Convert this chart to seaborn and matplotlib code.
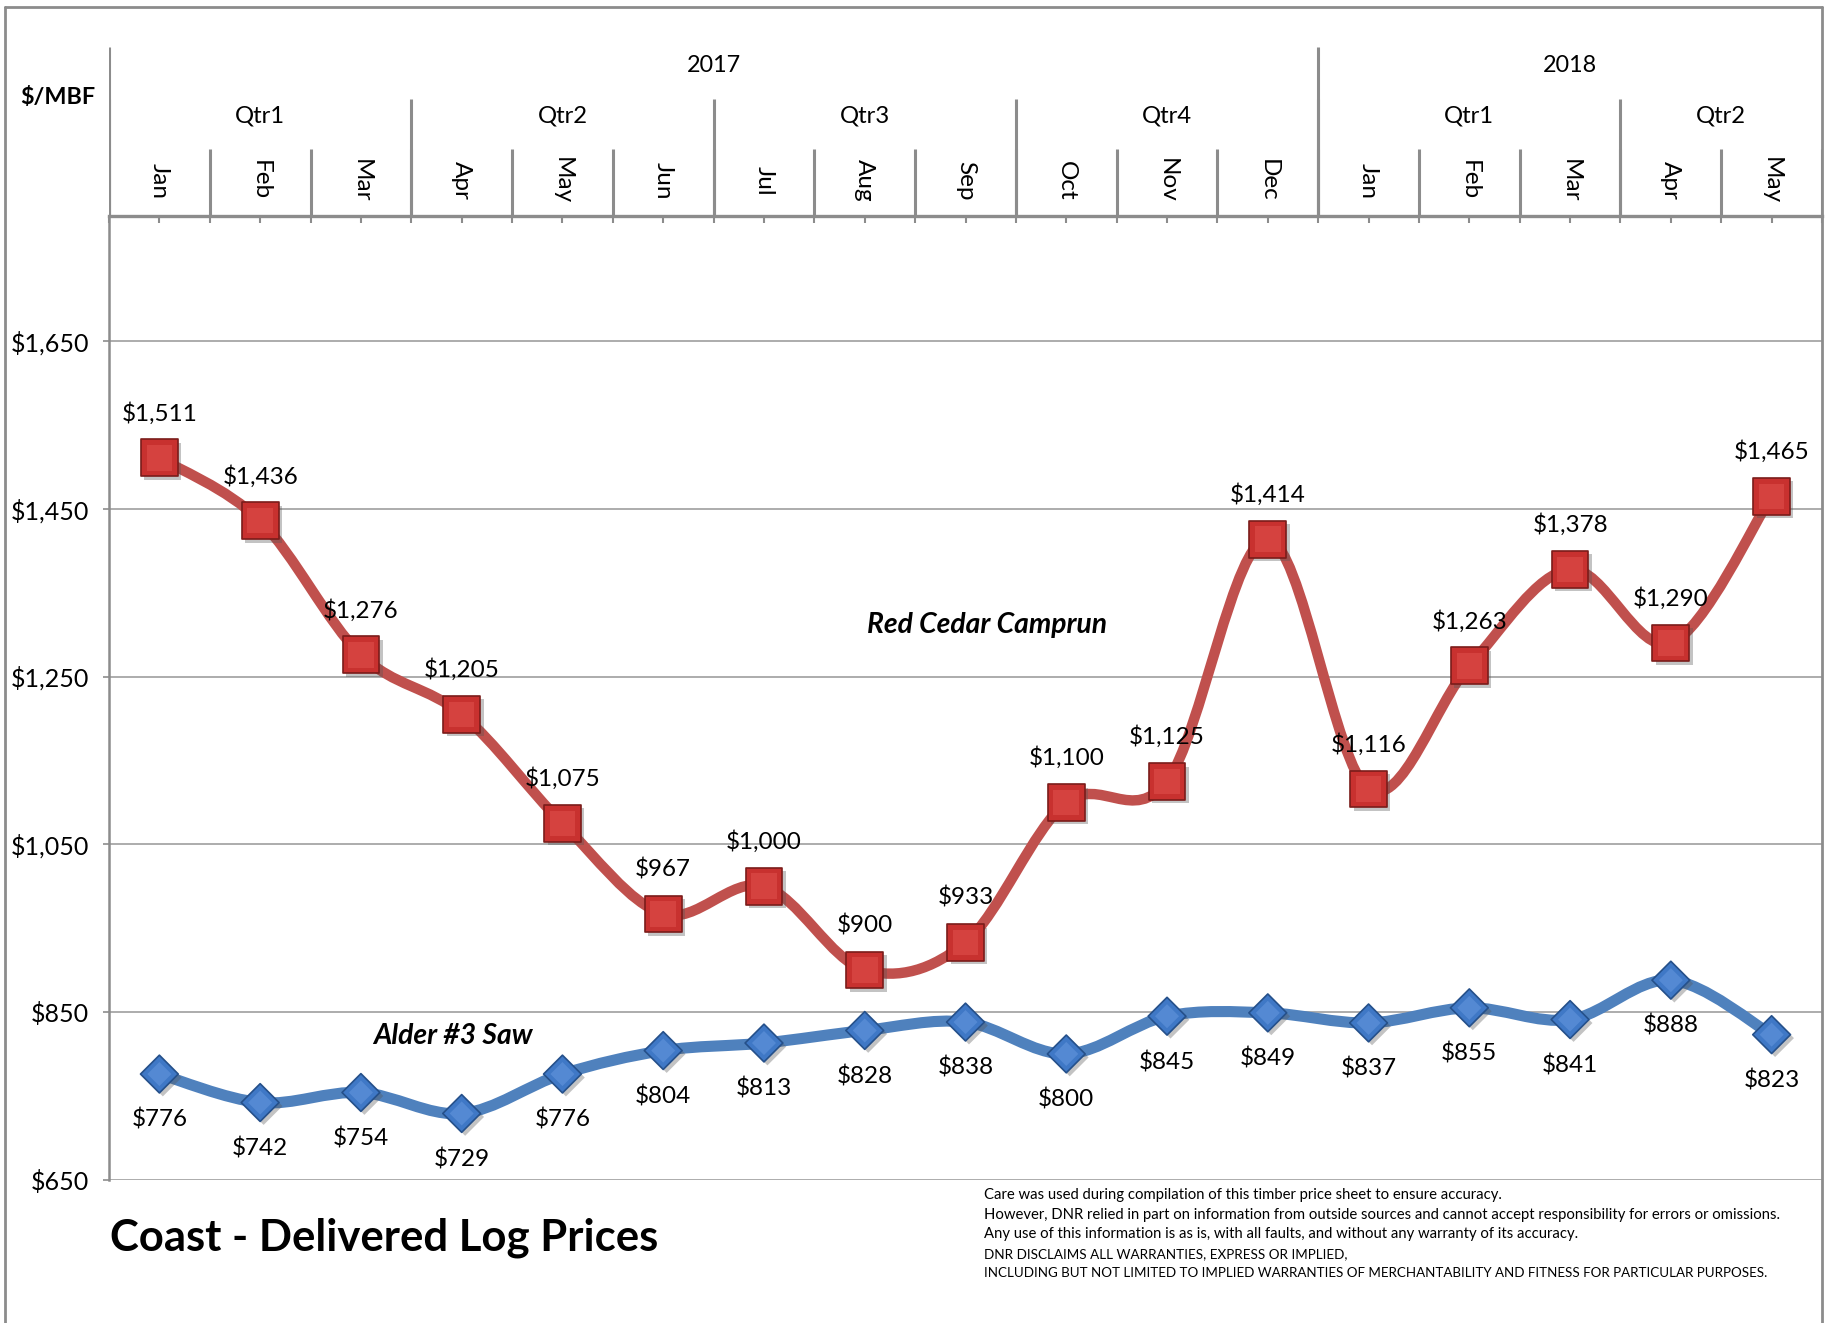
import numpy as np
import pandas as pd
import matplotlib
matplotlib.use("Agg")
import matplotlib.pyplot as plt
import seaborn as sns
from matplotlib.path import Path
from matplotlib.patches import PathPatch
import matplotlib.patheffects as pe
from matplotlib.lines import Line2D

# ---------------- data ----------------
months = ["Jan", "Feb", "Mar", "Apr", "May", "Jun", "Jul", "Aug", "Sep",
          "Oct", "Nov", "Dec", "Jan", "Feb", "Mar", "Apr", "May"]
quarters = ["Qtr1", "Qtr2", "Qtr3", "Qtr4", "Qtr1", "Qtr2"]
quarter_sizes = [3, 3, 3, 3, 3, 2]
years = ["2017", "2018"]
year_sizes = [12, 5]
red_cedar = [1511, 1436, 1276, 1205, 1075, 967, 1000, 900, 933,
             1100, 1125, 1414, 1116, 1263, 1378, 1290, 1465]
alder = [776, 742, 754, 729, 776, 804, 813, 828, 838,
         800, 845, 849, 837, 855, 841, 888, 823]
y_ticks = [650, 850, 1050, 1250, 1450, 1650]

df = pd.DataFrame({"idx": np.arange(len(months)), "month": months,
                   "red": red_cedar, "alder": alder})

# ---------------- style ----------------
sns.set_theme(style="white")
plt.rcParams["font.family"] = ["Lato", "DejaVu Sans"]

GRAY = "#8C8C8C"
GRID = "#A6A6A6"
RED_LINE = "#C0504D"
BLUE_LINE = "#4F81BD"
FS = 17.5

W, H = 1826, 1323
fig = plt.figure(figsize=(W / 100, H / 100), dpi=100)

left_px, right_px = 109, 1822
plot_top_px, plot_bot_px = 215.5, 1179.7
head_top_px = 46.6
L = left_px / W
Wd = (right_px - left_px) / W
B = (H - plot_bot_px) / H
Hp = (plot_bot_px - plot_top_px) / H
HB = (H - plot_top_px) / H
Hh = (plot_top_px - head_top_px) / H

ax = fig.add_axes([L, B, Wd, Hp])
hax = fig.add_axes([L, HB, Wd, Hh], sharex=ax)

n = len(months)
ax.set_xlim(-0.5, n - 0.5)
ax.set_ylim(650, 1800)


def smooth_path(xs, ys):
    pts = np.column_stack([xs, ys]).astype(float)
    ext = np.vstack([pts[0], pts, pts[-1]])
    verts = [tuple(pts[0])]
    codes = [Path.MOVETO]
    for i in range(len(pts) - 1):
        p0, p1, p2, p3 = ext[i], ext[i + 1], ext[i + 2], ext[i + 3]
        c1 = p1 + (p2 - p0) / 6.0
        c2 = p2 - (p3 - p1) / 6.0
        verts += [tuple(c1), tuple(c2), tuple(p2)]
        codes += [Path.CURVE4] * 3
    return Path(verts, codes)


# gridlines
ax.set_yticks(y_ticks)
ax.yaxis.grid(True, color=GRID, linewidth=1.3)
ax.xaxis.grid(False)
ax.set_axisbelow(True)

# smoothed lines
for col, colr, lw in [("red", RED_LINE, 7.5), ("alder", BLUE_LINE, 8.0)]:
    patch = PathPatch(smooth_path(df["idx"], df[col]), fill=False,
                      edgecolor=colr, linewidth=lw, capstyle="round",
                      joinstyle="round", zorder=2)
    ax.add_patch(patch)

shadow = [pe.SimplePatchShadow(offset=(2.5, -2.5), alpha=0.35, shadow_rgbFace="#555555"), pe.Normal()]

# markers via seaborn
sns.scatterplot(data=df, x="idx", y="red", marker="s", s=700, color="#C8312F",
                edgecolor="#7A1C1A", linewidth=1.2, ax=ax, zorder=4, legend=False)
ax.collections[-1].set_path_effects(shadow)
sns.scatterplot(data=df, x="idx", y="red", marker="s", s=340, color="#E0514D",
                edgecolor="none", linewidth=0, ax=ax, zorder=5, legend=False, alpha=0.55)
sns.scatterplot(data=df, x="idx", y="alder", marker="D", s=370, color="#3F78C6",
                edgecolor="#25508A", linewidth=1.2, ax=ax, zorder=4, legend=False)
ax.collections[-1].set_path_effects(shadow)
sns.scatterplot(data=df, x="idx", y="alder", marker="D", s=150, color="#6A9BE0",
                edgecolor="none", linewidth=0, ax=ax, zorder=5, legend=False, alpha=0.5)

# data labels
for i, v in enumerate(red_cedar):
    ax.annotate(f"${v:,}", (i, v), xytext=(0, 32), textcoords="offset points",
                ha="center", va="center", fontsize=FS, color="black", zorder=6)
for i, v in enumerate(alder):
    ax.annotate(f"${v:,}", (i, v), xytext=(0, -33), textcoords="offset points",
                ha="center", va="center", fontsize=FS, color="black", zorder=6)

# series labels
ax.text(8.21, 1311, "Red Cedar Camprun", ha="center", va="center",
        fontsize=20.3, fontweight="bold", fontstyle="italic", color="black")
ax.text(2.91, 821, "Alder #3 Saw", ha="center", va="center",
        fontsize=20.3, fontweight="bold", fontstyle="italic", color="black")

# y axis
ax.set_yticklabels([f"${t:,}" for t in y_ticks])
ax.tick_params(axis="y", which="major", left=True, direction="out", length=4.5,
               width=1.2, color=GRAY, pad=10, labelsize=18, labelcolor="black")
ax.set_xlabel("")
ax.set_ylabel("")

# top spine = header baseline with half-month ticks
ax.xaxis.set_ticks_position("top")
ax.set_xticks(np.arange(-0.5, n, 0.5))
ax.tick_params(axis="x", which="major", top=True, bottom=False, direction="in",
               length=5, width=1.5, color=GRAY, labeltop=False, labelbottom=False)
for s in ["right", "bottom"]:
    ax.spines[s].set_visible(False)
ax.spines["top"].set_color(GRAY)
ax.spines["top"].set_linewidth(2.4)
ax.spines["left"].set_color(GRAY)
ax.spines["left"].set_linewidth(1.8)

# ---------------- header ----------------
hax.set_ylim(0, 1)
hax.axis("off")
for b in np.arange(-0.5, n, 1.0):
    hax.plot([b, b], [0, 0.394], color=GRAY, lw=2.2, solid_capstyle="butt")
for i, m in enumerate(months):
    hax.text(i, 0.207, m, rotation=270, ha="center", va="center", fontsize=17.5,
             color="black")
pos = -0.5
for q, sz in zip(quarters, quarter_sizes):
    hax.plot([pos, pos], [0, 0.69], color=GRAY, lw=2.2, solid_capstyle="butt")
    hax.text(pos + sz / 2, 0.59, q, ha="center", va="center", fontsize=17.2,
             color="black")
    pos += sz
pos = -0.5
for y, sz in zip(years, year_sizes):
    hax.plot([pos, pos], [0, 1.0], color=GRAY, lw=2.2, solid_capstyle="butt")
    hax.text(pos + sz / 2, 0.89, y, ha="center", va="center", fontsize=16.8,
             color="black")
    pos += sz

# ---------------- figure text ----------------
fig.text(58 / W, 1 - 97 / H, "$/MBF", ha="center", va="center", fontsize=16.8,
         fontweight="bold", color="black")
fig.text(110 / W, 1 - 1238 / H, "Coast - Delivered Log Prices", ha="left",
         va="center", fontsize=31.4, fontweight="bold", color="black")
disclaimer = [
    "Care was used during compilation of this timber price sheet to ensure accuracy.",
    "However, DNR relied in part on information from outside sources and cannot accept responsibility for errors or omissions.",
    "Any use of this information is as is, with all faults, and without any warranty of its accuracy.",
    "DNR DISCLAIMS ALL WARRANTIES, EXPRESS OR IMPLIED,",
    "INCLUDING BUT NOT LIMITED TO IMPLIED WARRANTIES OF MERCHANTABILITY AND FITNESS FOR PARTICULAR PURPOSES.",
]
disc_sizes = [10.7, 10.7, 10.7, 9.7, 9.6]
for k, (line, fsz) in enumerate(zip(disclaimer, disc_sizes)):
    fig.text(984 / W, 1 - (1195 + 19.6 * k) / H, line, ha="left", va="center",
             fontsize=fsz, color="black")

# figure border
fig.add_artist(Line2D([5 / W, 5 / W], [0, 1 - 7 / H], color=GRAY, lw=2))
fig.add_artist(Line2D([5 / W, 1822 / W], [1 - 7 / H, 1 - 7 / H], color=GRAY, lw=2))
fig.add_artist(Line2D([1822 / W, 1822 / W], [0, 1 - 7 / H], color=GRAY, lw=2))

fig.savefig("out.png", dpi=100)
